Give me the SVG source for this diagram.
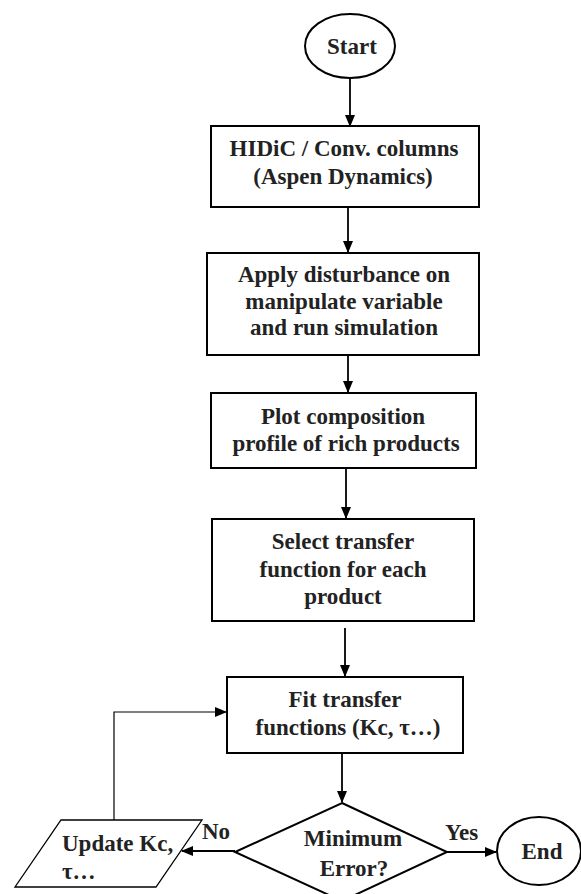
<svg xmlns="http://www.w3.org/2000/svg" width="581" height="894" viewBox="0 0 581 894">
  <style>
    .shape { fill: #fff; stroke: #000; stroke-width: 2; }
    .thin { fill: #fff; stroke: #000; stroke-width: 1.3; }
    .txt { font-family: "Liberation Serif", "Times New Roman", serif; font-weight: bold; font-size: 23px; fill: #222; text-anchor: middle; }
    .lbl { font-family: "Liberation Serif", "Times New Roman", serif; font-weight: bold; font-size: 23px; fill: #222; }
    .conn { fill: none; stroke: #000; stroke-width: 1.8; }
    .loop { fill: none; stroke: #000; stroke-width: 1.2; }
  </style>
  <defs>
    <marker id="arrow" markerUnits="userSpaceOnUse" markerWidth="12" markerHeight="10" refX="11" refY="5" orient="auto">
      <path d="M0,0 L12,5 L0,10 Z" fill="#000"/>
    </marker>
  </defs>
  <rect width="581" height="894" fill="#fff"/>

  <!-- connectors -->
  <g id="connectors">
    <line class="conn" x1="350" y1="78" x2="350" y2="126" marker-end="url(#arrow)"/>
    <line class="conn" x1="348" y1="207" x2="348" y2="252" marker-end="url(#arrow)"/>
    <line class="conn" x1="348" y1="355" x2="348" y2="392" marker-end="url(#arrow)"/>
    <line class="conn" x1="346" y1="468" x2="346" y2="518" marker-end="url(#arrow)"/>
    <line class="conn" x1="345" y1="628" x2="345" y2="676" marker-end="url(#arrow)"/>
    <line class="conn" x1="342" y1="753" x2="342" y2="802" marker-end="url(#arrow)"/>
    <line class="conn" x1="447" y1="852" x2="496" y2="852" marker-end="url(#arrow)"/>
    <line class="conn" x1="235" y1="851" x2="182" y2="851" marker-end="url(#arrow)"/>
    <polyline class="loop" points="114,820 114,712 226,712" marker-end="url(#arrow)"/>
    <text class="lbl" x="445" y="840">Yes</text>
    <text class="lbl" x="202" y="839">No</text>
  </g>

  <g id="start">
    <ellipse class="shape" cx="350" cy="46" rx="45" ry="32"/>
    <text class="txt" x="352" y="54">Start</text>
  </g>

  <g id="model">
    <rect class="shape" x="211" y="126" width="268" height="81"/>
    <text class="txt" x="344" y="156">HIDiC / Conv. columns</text>
    <text class="txt" x="343" y="184">(Aspen Dynamics)</text>
  </g>

  <g id="disturb">
    <rect class="shape" x="207" y="253" width="272" height="102"/>
    <text class="txt" x="344" y="282">Apply disturbance on</text>
    <text class="txt" x="344" y="309">manipulate variable</text>
    <text class="txt" x="344" y="335">and run simulation</text>
  </g>

  <g id="plot">
    <rect class="shape" x="211" y="393" width="265" height="75"/>
    <text class="txt" x="343" y="424">Plot composition</text>
    <text class="txt" x="346" y="451">profile of rich products</text>
  </g>

  <g id="select">
    <rect class="shape" x="212" y="519" width="262" height="102"/>
    <text class="txt" x="343" y="549">Select transfer</text>
    <text class="txt" x="343" y="577">function for each</text>
    <text class="txt" x="343" y="604">product</text>
  </g>

  <g id="fit">
    <rect class="shape" x="227" y="677" width="236" height="76"/>
    <text class="txt" x="345" y="707">Fit transfer</text>
    <text class="txt" x="348" y="735">functions (Kc, τ…)</text>
  </g>

  <g id="decision">
    <polygon class="shape" points="342,803 447,852 342,901 235,852"/>
    <text class="txt" x="353" y="846">Minimum</text>
    <text class="txt" x="354" y="876">Error?</text>
  </g>

  <g id="end">
    <ellipse class="shape" cx="539" cy="851" rx="42" ry="34"/>
    <text class="txt" x="542" y="859">End</text>
  </g>

  <g id="update">
    <polygon class="thin" points="61,820 202,820 156,887 15,887"/>
    <text class="lbl" x="62" y="851">Update Kc,</text>
    <text class="lbl" x="62" y="879">τ…</text>
  </g>
</svg>
